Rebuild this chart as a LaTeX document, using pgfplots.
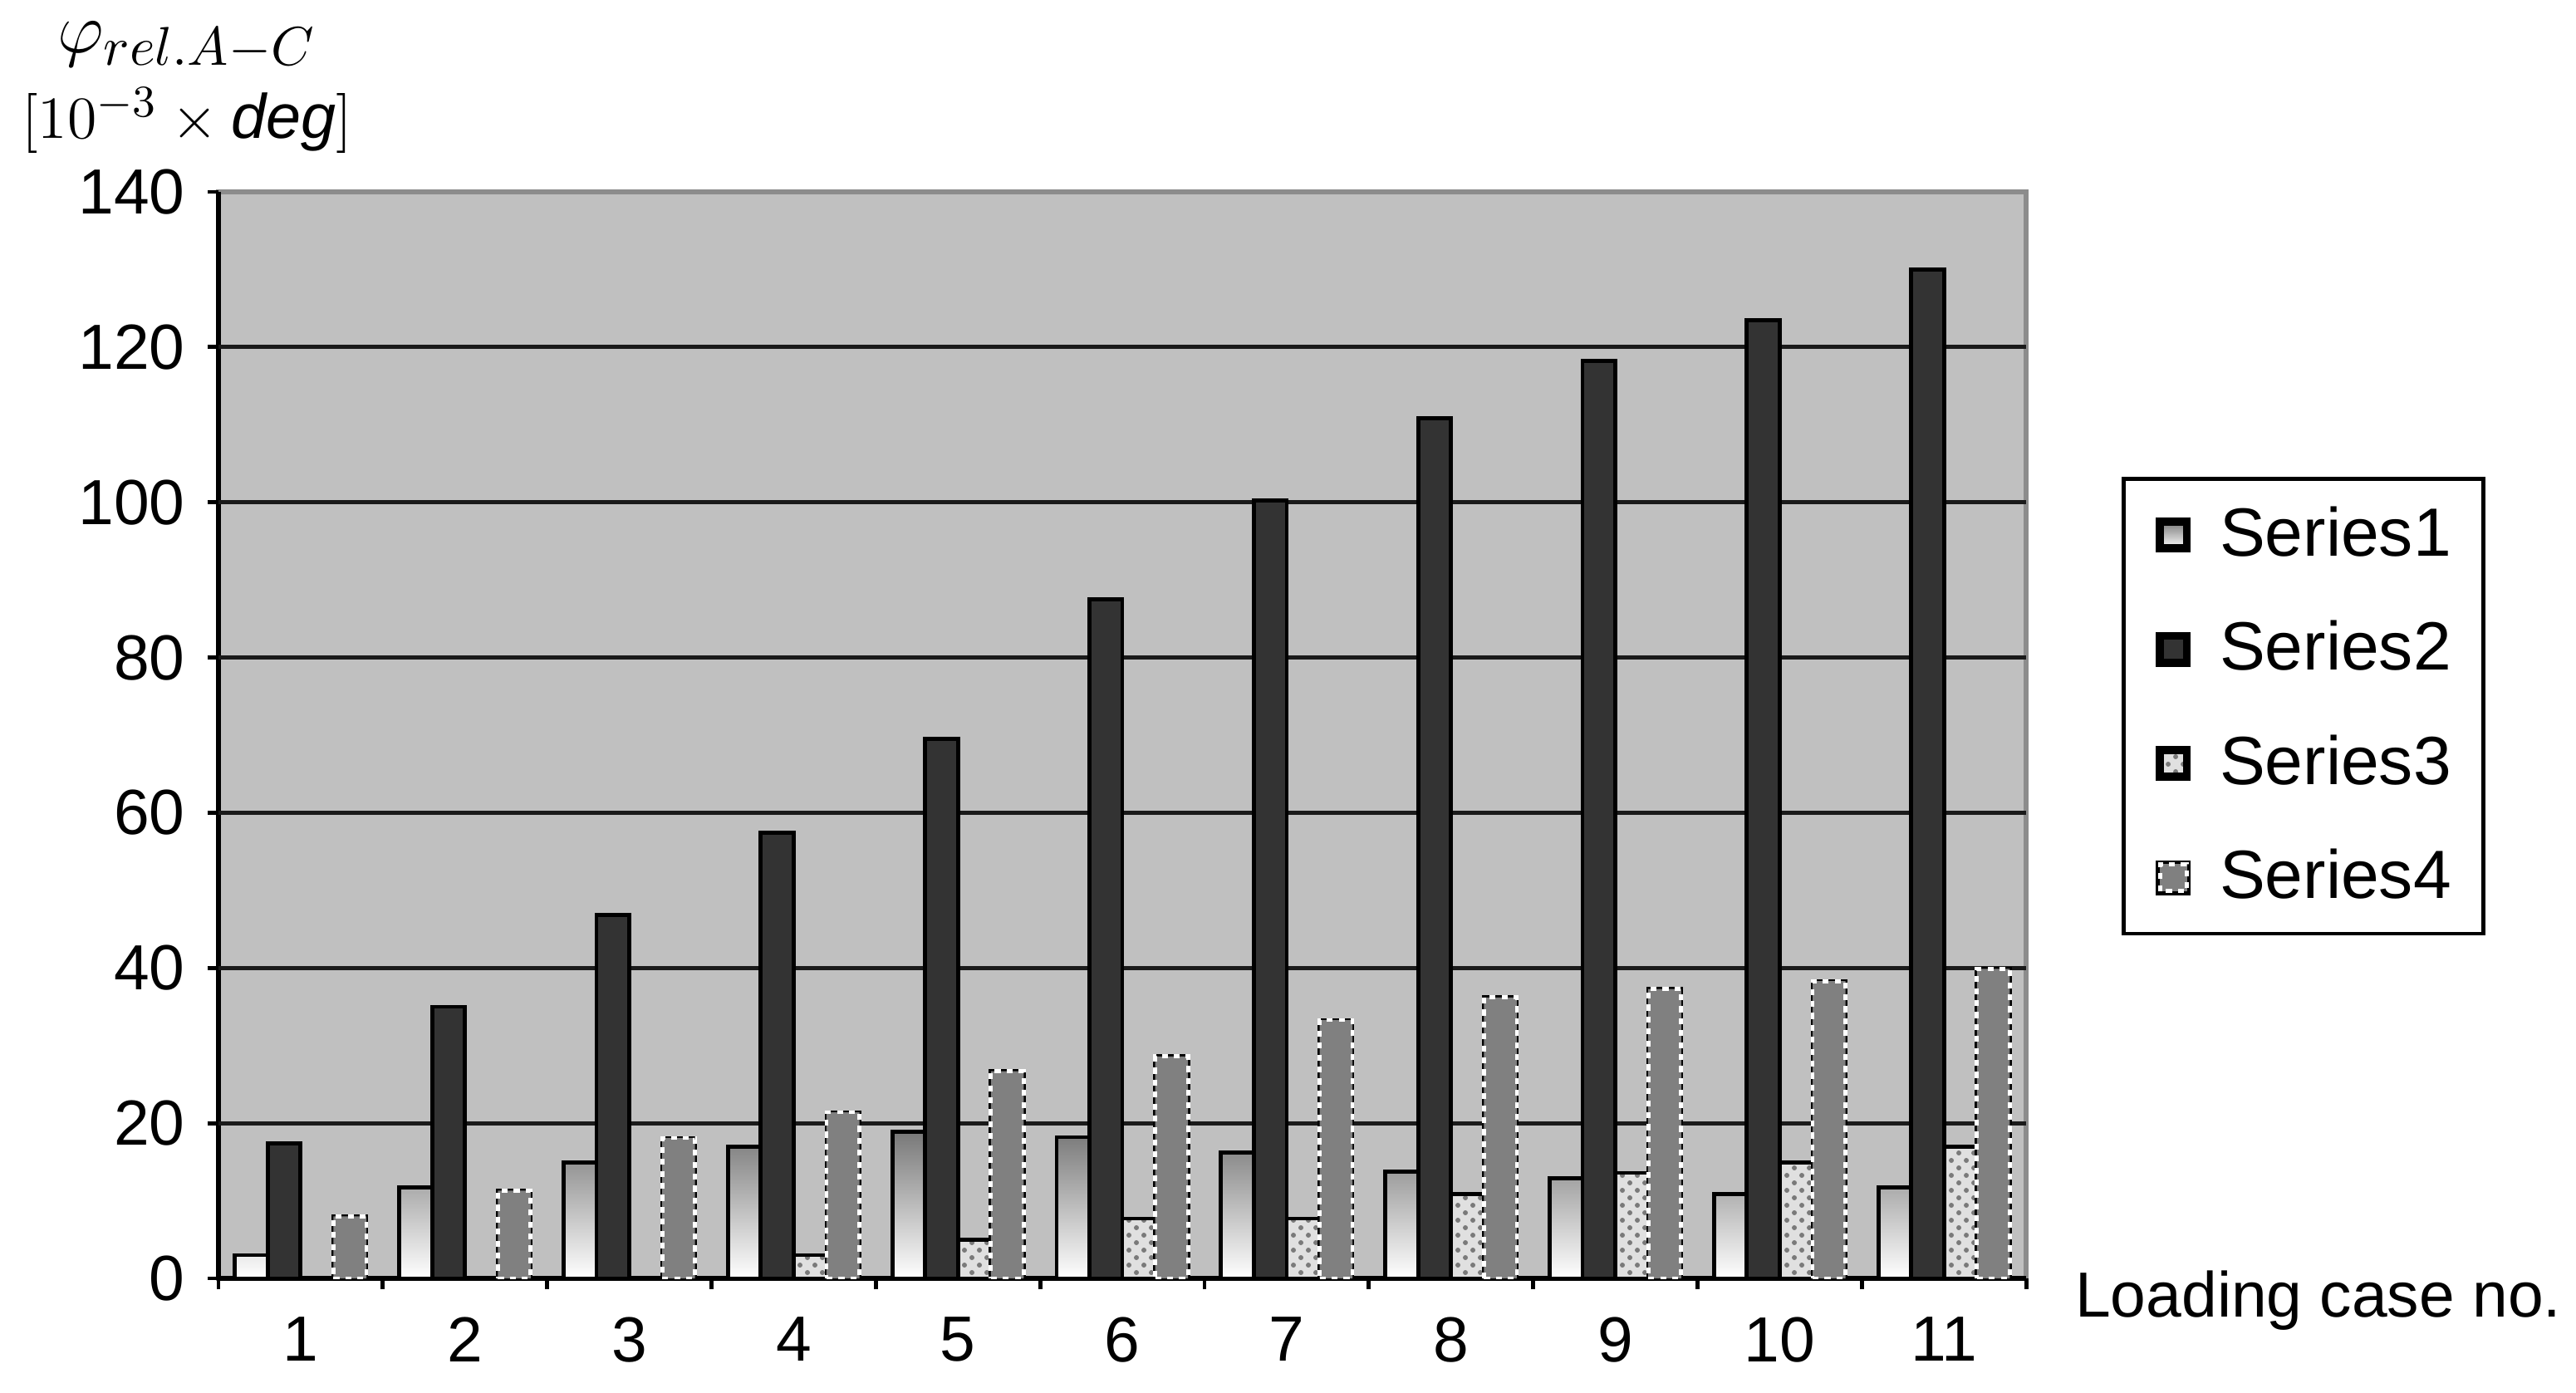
\documentclass[border=0pt]{standalone}
\usepackage{fontspec}
\setmainfont{Liberation Sans}
\usepackage{pgfplots}
\pgfplotsset{compat=1.18}
\usetikzlibrary{patterns}
\definecolor{plotbg}{HTML}{C0C0C0}
\definecolor{framegray}{HTML}{8C8C8C}
\definecolor{gridblack}{HTML}{1A1A1A}
\definecolor{sonetop}{HTML}{787878}
\definecolor{sonemid}{HTML}{E2E2E2}
\definecolor{stwo}{HTML}{333333}
\definecolor{sthree}{HTML}{E0E0E0}
\definecolor{sthreedot}{HTML}{7A7A7A}
\definecolor{sfour}{HTML}{808080}

\begin{document}
\begin{tikzpicture}
\begin{axis}[
  scale only axis,
  width=362.7pt, height=218pt,
  at={(0,0)}, anchor=south west,
  ybar=0pt, bar width=0.2,
  xmin=0.5, xmax=11.5, ymin=0, ymax=140,
  xtick={0.5,1.5,...,11.5},
  x tick label as interval,
  xticklabels={1,2,3,4,5,6,7,8,9,10,11},
  ytick={0,20,...,140},
  extra y ticks={20,40,...,120},
  extra y tick labels={},
  extra y tick style={grid=major},
  major grid style={draw=gridblack, line width=0.8pt},
  axis x line*=bottom, axis y line*=left,
  axis line style={black, line width=1pt},
  tick align=outside,
  major tick length=2.2pt,
  tick style={black, line width=0.8pt},
  axis background/.style={fill=plotbg, draw=framegray, line width=1pt},
  /pgf/number format/assume math mode=true,
  tick label style={font=\fontsize{12.8}{14}\selectfont},
  yticklabel style={xshift=-1pt},
  xticklabel style={yshift=-2pt},
  legend style={at={(axis description cs:1.0527,0.7376)}, anchor=north west,
    draw=black, line width=0.8pt, fill=white,
    inner xsep=6.5pt, inner ysep=5.5pt, row sep=11.5pt,
    font=\fontsize{13.7}{15}\selectfont,
    nodes={inner sep=0pt},
    cells={anchor=west},
    /tikz/every odd column/.append style={column sep=5.8pt}},
  legend image code/.code={\draw[#1, line width=1.6pt] (0pt,-2.7pt) rectangle (5.4pt,2.7pt);},
]
% Series1: gradient bars
\addplot[draw=black, line width=0.8pt, top color=sonetop, middle color=sonemid, bottom color=white] coordinates {
  (1,3.0) (2,11.7) (3,14.9) (4,17.0) (5,18.9) (6,18.2)
  (7,16.2) (8,13.8) (9,12.9) (10,10.9) (11,11.7)
};
% Series2: dark bars
\addplot[draw=black, line width=0.8pt, fill=stwo] coordinates {
  (1,17.4) (2,35.0) (3,46.8) (4,57.4) (5,69.5) (6,87.5)
  (7,100.2) (8,110.8) (9,118.2) (10,123.5) (11,130.0)
};
% Series3: speckled bars
\addplot[draw=black, line width=0.8pt, fill=sthree,
  postaction={pattern=crosshatch dots, pattern color=sthreedot}] coordinates {
  (1,0) (2,0) (3,0) (4,3.0) (5,5.0) (6,7.7)
  (7,7.7) (8,10.9) (9,13.6) (10,14.9) (11,17.0)
};
% Series4: gray bars with dotted outline
\addplot[draw=black, line width=0.8pt, fill=sfour,
  postaction={draw=white, line width=0.8pt, dash pattern=on 1.2pt off 1.2pt}] coordinates {
  (1,8.0) (2,11.3) (3,18.1) (4,21.4) (5,26.7) (6,28.6)
  (7,33.3) (8,36.2) (9,37.3) (10,38.3) (11,39.9)
};
\legend{Series1,Series2,Series3,Series4}
\end{axis}
\node[anchor=base, font=\fontsize{15}{18}\selectfont] at (-6.3pt,246pt) {$\varphi_{rel.A-C}$};
\node[anchor=base, font=\fontsize{12.6}{15}\selectfont] at (-6.3pt,228.8pt) {$[10^{-3}\times\textit{deg}]$};
\node[anchor=base west, font=\fontsize{12.8}{14}\selectfont] at (369pt,-7.8pt) {Loading case no.};
\pgfresetboundingbox
\path (-43.83pt,-22.83pt) rectangle (473pt,256.5pt);
\end{tikzpicture}
\end{document}
